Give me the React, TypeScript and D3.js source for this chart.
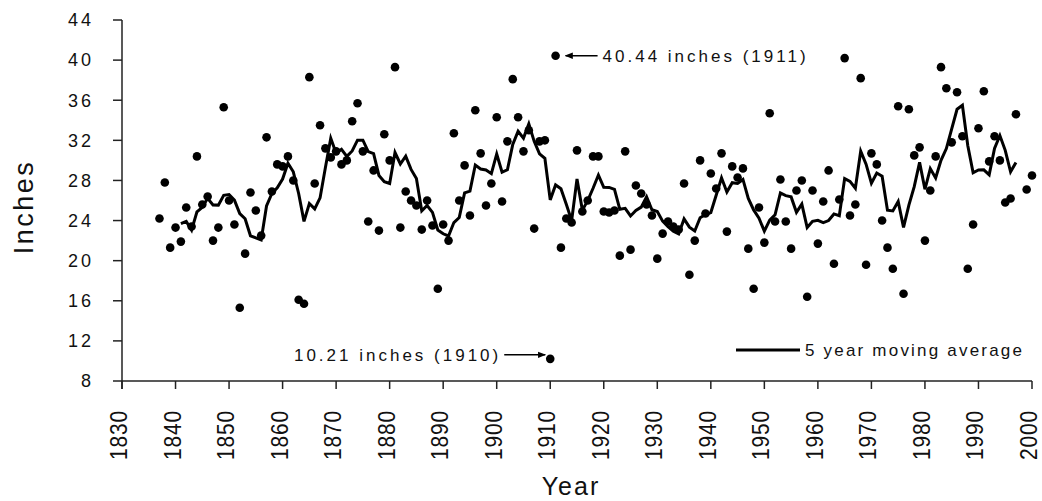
import React from "react";
import * as d3 from "d3";

const years = [
  1837, 1838, 1839, 1840, 1841, 1842, 1843, 1844, 1845, 1846, 1847, 1848, 1849,
  1850, 1851, 1852, 1853, 1854, 1855, 1856, 1857, 1858, 1859, 1860, 1861, 1862,
  1863, 1864, 1865, 1866, 1867, 1868, 1869, 1870, 1871, 1872, 1873, 1874, 1875,
  1876, 1877, 1878, 1879, 1880, 1881, 1882, 1883, 1884, 1885, 1886, 1887, 1888,
  1889, 1890, 1891, 1892, 1893, 1894, 1895, 1896, 1897, 1898, 1899, 1900, 1901,
  1902, 1903, 1904, 1905, 1906, 1907, 1908, 1909, 1910, 1911, 1912, 1913, 1914,
  1915, 1916, 1917, 1918, 1919, 1920, 1921, 1922, 1923, 1924, 1925, 1926, 1927,
  1928, 1929, 1930, 1931, 1932, 1933, 1934, 1935, 1936, 1937, 1938, 1939, 1940,
  1941, 1942, 1943, 1944, 1945, 1946, 1947, 1948, 1949, 1950, 1951, 1952, 1953,
  1954, 1955, 1956, 1957, 1958, 1959, 1960, 1961, 1962, 1963, 1964, 1965, 1966,
  1967, 1968, 1969, 1970, 1971, 1972, 1973, 1974, 1975, 1976, 1977, 1978, 1979,
  1980, 1981, 1982, 1983, 1984, 1985, 1986, 1987, 1988, 1989, 1990, 1991, 1992,
  1993, 1994, 1995, 1996, 1997, 1999, 2000,
];

const rainfall = [
  24.2, 27.8, 21.3, 23.3, 21.9, 25.3, 23.4, 30.4, 25.6, 26.4, 22.0, 23.3, 35.3,
  26.0, 23.6, 15.3, 20.7, 26.8, 25.0, 22.5, 32.3, 26.9, 29.6, 29.4, 30.4, 28.0,
  16.1, 15.7, 38.3, 27.7, 33.5, 31.2, 30.3, 30.9, 29.6, 30.0, 33.9, 35.7, 30.9,
  23.9, 29.0, 23.0, 32.6, 30.0, 39.3, 23.3, 26.9, 26.0, 25.5, 23.1, 26.0, 23.5,
  17.2, 23.6, 22.0, 32.7, 26.0, 29.5, 24.5, 35.0, 30.7, 25.5, 27.7, 34.3, 25.9,
  31.9, 38.1, 34.3, 30.9, 33.0, 23.2, 31.9, 32.0, 10.21, 40.44, 21.3, 24.2, 23.8,
  31.0, 24.9, 26.0, 30.4, 30.4, 24.9, 24.8, 25.0, 20.5, 30.9, 21.1, 27.5, 26.7,
  25.6, 24.5, 20.2, 22.7, 23.9, 23.4, 23.1, 27.7, 18.6, 22.0, 30.0, 24.7, 28.7,
  27.2, 30.7, 22.9, 29.4, 28.3, 29.2, 21.2, 17.2, 25.3, 21.8, 34.7, 23.9, 28.1,
  23.9, 21.2, 27.0, 28.0, 16.4, 27.0, 21.7, 25.9, 29.0, 19.7, 26.1, 40.2, 24.5,
  25.6, 38.2, 19.6, 30.7, 29.6, 24.0, 21.3, 19.2, 35.4, 16.7, 35.1, 30.5, 31.3,
  22.0, 27.0, 30.4, 39.3, 37.2, 31.8, 36.8, 32.4, 19.2, 23.6, 33.2, 36.9, 29.9,
  32.4, 30.0, 25.8, 26.2, 34.6, 27.1, 28.5,
];

const xTickValues = [
  1830, 1840, 1850, 1860, 1870, 1880, 1890, 1900, 1910, 1920, 1930, 1940, 1950,
  1960, 1970, 1980, 1990, 2000,
];
const yTickValues = [8, 12, 16, 20, 24, 28, 32, 36, 40, 44];

const MA_WINDOW = 5;
const MA_LAST_YEAR = 1997;
const lowNote = { year: 1910, text: "10.21 inches (1910)" };
const highNote = { year: 1911, text: "40.44 inches (1911)" };
const legendLabel = "5 year moving average";
const xTitle = "Year";
const yTitle = "Inches";

const FONT = "'Liberation Sans', Arial, sans-serif";

export default function App() {
  const x = d3.scaleLinear().domain([1830, 2000]).range([122, 1032]);
  const y = d3.scaleLinear().domain([8, 44]).range([381, 20]);

  const points = years.map((yr, i) => ({ yr, v: rainfall[i] }));
  const ma: [number, number][] = [];
  for (let i = MA_WINDOW - 1; i < points.length; i++) {
    if (points[i].yr > MA_LAST_YEAR) break;
    const win = rainfall.slice(i - MA_WINDOW + 1, i + 1);
    ma.push([points[i].yr, d3.mean(win) as number]);
  }
  const line = d3
    .line<[number, number]>()
    .x((d) => x(d[0]))
    .y((d) => y(d[1]));

  const hi = points.find((p) => p.yr === highNote.year)!;
  const lo = points.find((p) => p.yr === lowNote.year)!;
  const hx = x(hi.yr);
  const hy = y(hi.v);
  const lx = x(lo.yr);
  const ly = y(lo.v);

  const axisColor = "#222";

  return (
    <svg
      width={1042}
      height={501}
      style={{ position: "absolute", left: 0, top: 0, background: "#fff" }}
    >
      <defs>
        <marker id="arr" viewBox="0 0 10 10" refX="9" refY="5" markerWidth="8" markerHeight="8" orient="auto-start-reverse" markerUnits="userSpaceOnUse">
          <path d="M0,1 L10,5 L0,9 Z" fill="#000" />
        </marker>
      </defs>

      {/* Y axis */}
      <line x1={122} x2={122} y1={y(44)} y2={y(8) + 8} stroke={axisColor} strokeWidth={1.5} />
      {yTickValues.map((t) => (
        <g key={t}>
          <line x1={113} x2={122} y1={y(t)} y2={y(t)} stroke={axisColor} strokeWidth={1.5} />
          <text
            x={94}
            y={y(t)}
            dy="0.35em"
            textAnchor="end"
            fontFamily={FONT}
            fontSize={18}
            letterSpacing={3}
            fill="#111"
          >
            {t}
          </text>
        </g>
      ))}

      {/* X axis */}
      <line x1={x(1830)} x2={x(2000)} y1={381} y2={381} stroke={axisColor} strokeWidth={1.5} />
      {xTickValues.map((t) => (
        <g key={t}>
          <line x1={x(t)} x2={x(t)} y1={381} y2={389} stroke={axisColor} strokeWidth={1.5} />
          <text
            transform={`translate(${x(t) + 5},${410}) rotate(-90) scale(1,1.1)`}
            textAnchor="end"
            fontFamily={FONT}
            fontSize={21}
            letterSpacing={0.8}
            fill="#111"
          >
            {t}
          </text>
        </g>
      ))}

      {/* Axis titles */}
      <text x={571} y={495} textAnchor="middle" fontFamily={FONT} fontSize={25} letterSpacing={2} fill="#111">
        {xTitle}
      </text>
      <text
        transform={`translate(33,207) rotate(-90)`}
        textAnchor="middle"
        fontFamily={FONT}
        fontSize={27}
        letterSpacing={2.5}
        fill="#111"
      >
        {yTitle}
      </text>

      {/* Moving average */}
      <path d={line(ma) ?? ""} fill="none" stroke="#000" strokeWidth={3} strokeLinejoin="miter" />

      {/* Points */}
      {points.map((p) => (
        <circle key={p.yr} cx={x(p.yr)} cy={y(p.v)} r={4.3} fill="#000" />
      ))}

      {/* Annotations */}
      <line x1={hx + 42} x2={hx + 10} y1={hy} y2={hy} stroke="#000" strokeWidth={1.5} markerEnd="url(#arr)" />
      <text x={hx + 47} y={hy} dy="0.35em" fontFamily={FONT} fontSize={17} letterSpacing={3} fill="#111">
        {highNote.text}
      </text>
      <line x1={lx - 46} x2={lx - 5} y1={ly - 4} y2={ly - 4} stroke="#000" strokeWidth={1.5} markerEnd="url(#arr)" />
      <text x={lx - 49} y={ly - 4} dy="0.35em" textAnchor="end" fontFamily={FONT} fontSize={17} letterSpacing={3} fill="#111">
        {lowNote.text}
      </text>

      {/* Legend */}
      <line x1={736} x2={800} y1={350} y2={350} stroke="#000" strokeWidth={3} />
      <text x={805} y={350} dy="0.35em" fontFamily={FONT} fontSize={17} letterSpacing={2.2} fill="#111">
        {legendLabel}
      </text>
    </svg>
  );
}
